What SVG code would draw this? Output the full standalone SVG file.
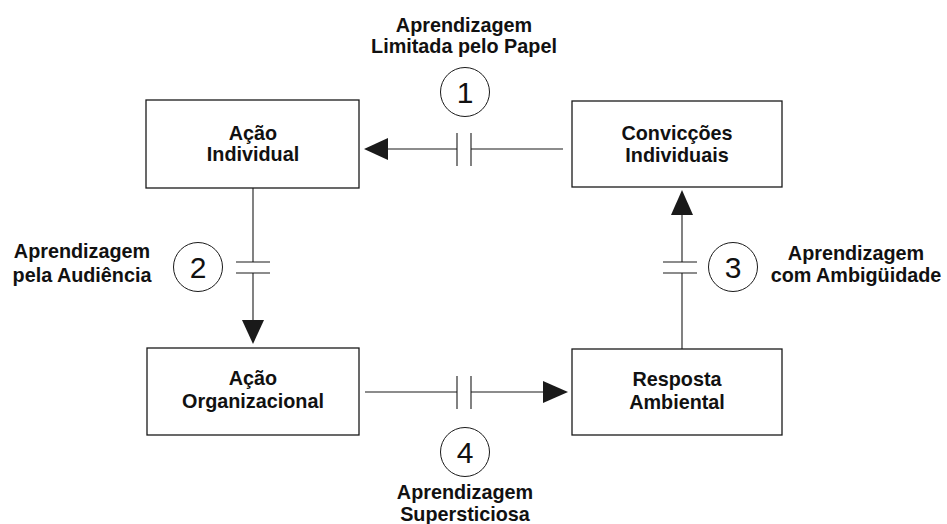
<svg xmlns="http://www.w3.org/2000/svg" width="947" height="524" viewBox="0 0 947 524">
<style>
.box{fill:#fff;stroke:#1a1a1a;stroke-width:1.3}
.t{font-family:"Liberation Sans",Arial,sans-serif;font-weight:bold;font-size:19.8px;fill:#111;text-anchor:middle}
.ln{stroke:#1a1a1a;stroke-width:1.1;fill:none}
.c{fill:#fff;stroke:#1a1a1a;stroke-width:1}
.n{font-family:"Liberation Sans",Arial,sans-serif;font-size:30px;fill:#111;text-anchor:middle}
.ah{fill:#1a1a1a}
</style>
<rect width="947" height="524" fill="#fff"/>
<g id="node-acao-individual">
<rect class="box" x="146" y="100" width="213" height="88"/>
<text class="t" x="253" y="140">Ação</text>
<text class="t" x="253" y="161">Individual</text>
</g>
<g id="node-conviccoes">
<rect class="box" x="572" y="101" width="210" height="86"/>
<text class="t" x="677" y="140">Convicções</text>
<text class="t" x="677" y="161.5">Individuais</text>
</g>
<g id="node-acao-organizacional">
<rect class="box" x="147" y="348" width="212" height="87"/>
<text class="t" x="253" y="385">Ação</text>
<text class="t" x="253" y="408">Organizacional</text>
</g>
<g id="node-resposta">
<rect class="box" x="572" y="349" width="210" height="86"/>
<text class="t" x="677" y="386">Resposta</text>
<text class="t" x="677" y="409">Ambiental</text>
</g>
<g id="connectors">
<line class="ln" x1="563" y1="149" x2="471" y2="149"/>
<line class="ln" x1="471" y1="133" x2="471" y2="166"/>
<line class="ln" x1="457" y1="133" x2="457" y2="166"/>
<line class="ln" x1="457" y1="149" x2="386" y2="149"/>
<polygon class="ah" points="364,149 388,138 388,160"/>
<line class="ln" x1="253" y1="188" x2="253" y2="262"/>
<line class="ln" x1="236" y1="262" x2="270" y2="262"/>
<line class="ln" x1="236" y1="273" x2="270" y2="273"/>
<line class="ln" x1="253" y1="273" x2="253" y2="322"/>
<polygon class="ah" points="253,344 242,320 264,320"/>
<line class="ln" x1="682" y1="349" x2="682" y2="273"/>
<line class="ln" x1="663" y1="273" x2="697" y2="273"/>
<line class="ln" x1="663" y1="262" x2="697" y2="262"/>
<line class="ln" x1="682" y1="262" x2="682" y2="213"/>
<polygon class="ah" points="682,190 671,215 693,215"/>
<line class="ln" x1="365" y1="392" x2="457" y2="392"/>
<line class="ln" x1="457" y1="376" x2="457" y2="409"/>
<line class="ln" x1="471" y1="376" x2="471" y2="409"/>
<line class="ln" x1="471" y1="392" x2="545" y2="392"/>
<polygon class="ah" points="568,392 543,381 543,403"/>
</g>
<g id="label-1">
<text class="t" x="464" y="32">Aprendizagem</text>
<text class="t" x="464" y="53">Limitada pelo Papel</text>
<circle class="c" cx="465" cy="92" r="24.5"/>
<text class="n" x="465" y="103">1</text>
</g>
<g id="label-2">
<text class="t" x="82" y="258">Aprendizagem</text>
<text class="t" x="82" y="282">pela Audiência</text>
<circle class="c" cx="198" cy="267" r="24.5"/>
<text class="n" x="198" y="278">2</text>
</g>
<g id="label-3">
<text class="t" x="856" y="260">Aprendizagem</text>
<text class="t" x="856" y="282">com Ambigüidade</text>
<circle class="c" cx="733" cy="267" r="24.5"/>
<text class="n" x="733" y="278">3</text>
</g>
<g id="label-4">
<circle class="c" cx="465" cy="452" r="24.5"/>
<text class="n" x="465" y="463">4</text>
<text class="t" x="465" y="499">Aprendizagem</text>
<text class="t" x="465" y="521">Supersticiosa</text>
</g>
</svg>
